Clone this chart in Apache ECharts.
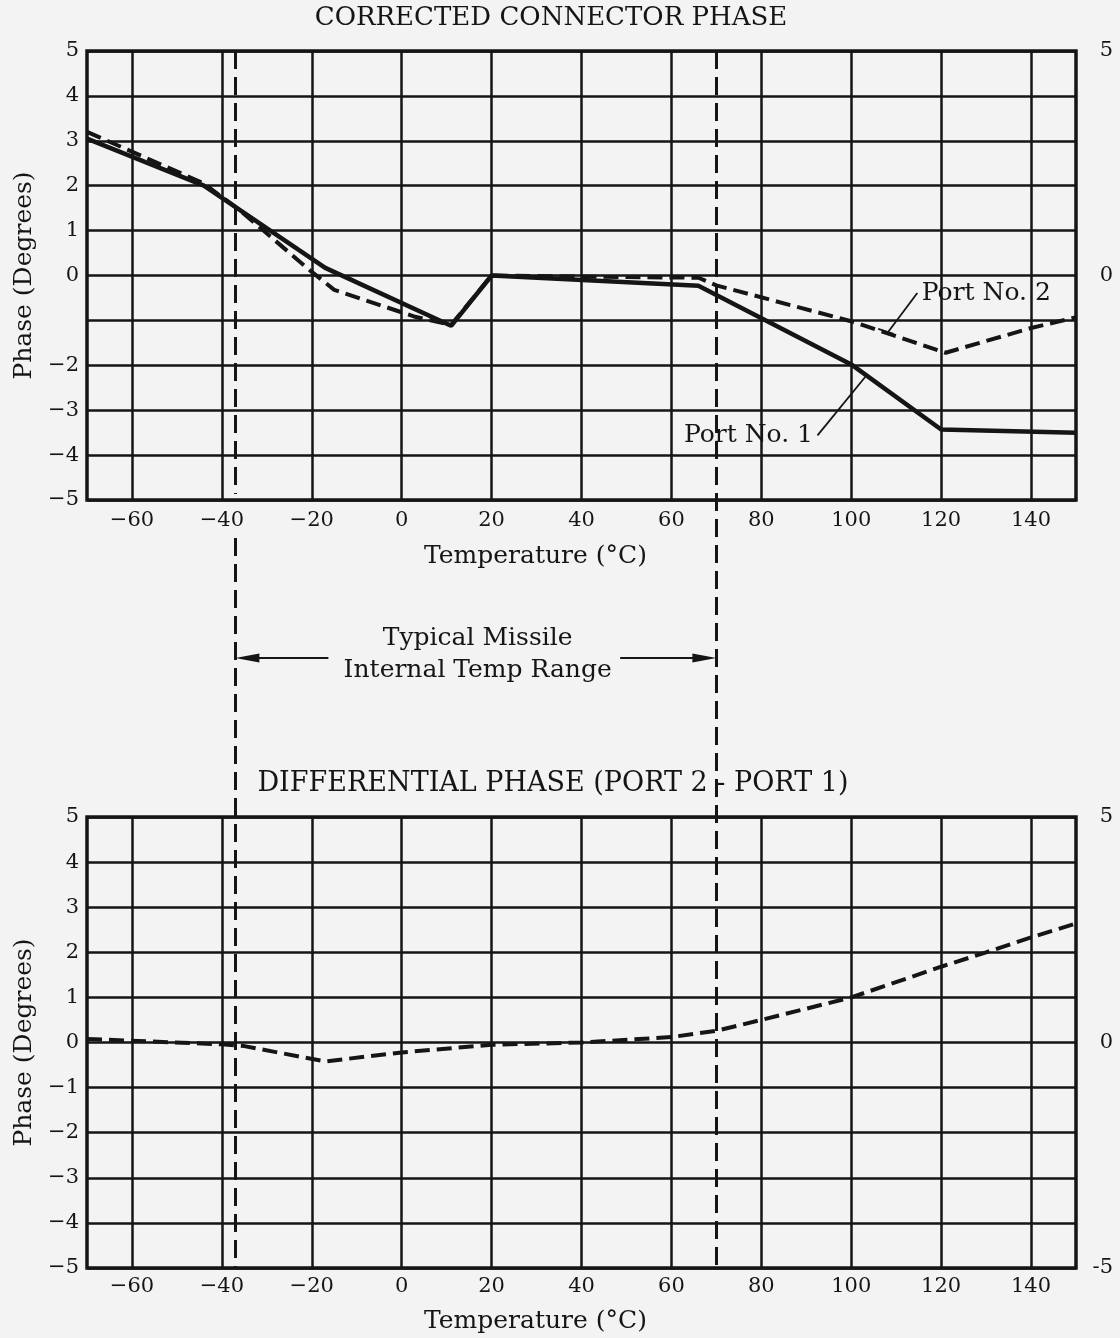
<!DOCTYPE html>
<html>
<head>
<meta charset="utf-8">
<title>Connector Phase vs Temperature</title>
<script src="https://cdn.jsdelivr.net/npm/echarts@6/dist/echarts.min.js"></script>
<style>
  html, body { margin: 0; padding: 0; background: #f3f3f3; }
  #chart { width: 1120px; height: 1338px; }
</style>
</head>
<body>
<div id="chart"></div>
<script>
// ---- data -------------------------------------------------------------
const xTicks = [-60, -40, -20, 0, 20, 40, 60, 80, 100, 120, 140];
const rightTicksTop = [5, 0];
const rightTicksBottom = [5, 0, -5];

// corrected connector phase, port 1 (solid)
const port1Temp  = [-70, -44, -17, 11, 20, 66, 100, 120, 150];
const port1Phase = [3.05, 2.0, 0.17, -1.12, 0.0, -0.23, -1.98, -3.43, -3.5];

// corrected connector phase, port 2 (dashed)
const port2Temp  = [-70, -44, -36, -20, -15, 3, 11, 20, 45, 66, 70, 100, 121, 140, 150];
const port2Phase = [3.2, 2.05, 1.45, 0.08, -0.32, -0.92, -1.1, 0.0, -0.03, -0.05, -0.22, -1.02, -1.72, -1.17, -0.93];

// differential phase, port 2 - port 1
const diffTemp  = [-70, -40, -35, -17, 0, 20, 40, 60, 70, 80, 100, 120, 130, 140, 150];
const diffPhase = [0.08, -0.04, -0.08, -0.42, -0.22, -0.05, 0.0, 0.12, 0.26, 0.5, 1.0, 1.68, 2.0, 2.33, 2.64];

// missile internal temperature range
const rangeBounds = [-37, 70];
const rangeText = ['Typical Missile', 'Internal Temp Range'];
const rangeArrowTails = [-16.3, 48.6];

// leader lines for the curve labels: [from, to] in (temp, phase)
const port1Leader = [[103.1, -2.26], [92.5, -3.56]];
const port2Leader = [[108.2, -1.26], [114.7, -0.39]];
const port2LeaderFoot = [[106.0, -1.19], [109.4, -1.30]];

// ---- styling / layout ------------------------------------------------
const INK = '#151515';
const FONT = '"DejaVu Serif", "Liberation Serif", serif';
const TOP = { top: 51, height: 449 };
const BOT = { top: 817, height: 451 };
const LEFT = 87, RIGHT = 44, WIDTH = 1120;
const X_MIN = -70, X_MAX = 150;
const OVER_TOP = TOP.top, OVER_BOT = BOT.top + BOT.height;
const yFrac = px => (OVER_BOT - px) / (OVER_BOT - OVER_TOP);
const pxPerDeg = (WIDTH - LEFT - RIGHT) / (X_MAX - X_MIN);
const ARROW = [9, 24];                       // arrowhead width, length (px)
const arrowBack = ARROW[1] / 2 / pxPerDeg;   // triangle is centred on its anchor

const minus = v => String(v).replace('-', '\u2212');
const pairs = (xs, ys) => xs.map((x, i) => [x, ys[i]]);
const seg = (a, b) => [{ coord: a }, { coord: b }];
const txt = (size) => ({ color: INK, fontFamily: FONT, fontSize: size });

function xAxisFor(gridIndex, labelMargin, nameGap) {
  return {
    type: 'value', gridIndex, min: X_MIN, max: X_MAX, interval: 10,
    axisLine: { show: false },
    axisTick: { show: false, customValues: xTicks },
    axisLabel: Object.assign({ customValues: xTicks, formatter: minus, margin: labelMargin }, txt(21)),
    splitLine: { show: true, lineStyle: { color: INK, width: 2.5 } },
    name: 'Temperature (°C)', nameLocation: 'middle', nameGap,
    nameTextStyle: Object.assign({ padding: [0, 92, 0, 0] }, txt(25))
  };
}

function yAxisLeft(gridIndex, skipMinusOne) {
  return {
    type: 'value', gridIndex, min: -5, max: 5, interval: 1,
    axisLine: { show: false }, axisTick: { show: false },
    axisLabel: Object.assign({
      margin: 8,
      formatter: v => (skipMinusOne && v === -1) ? '' : minus(v)
    }, txt(21)),
    splitLine: { show: true, lineStyle: { color: INK, width: 2.5 } },
    name: 'Phase (Degrees)', nameLocation: 'middle', nameGap: 48,
    nameTextStyle: txt(25)
  };
}

function yAxisRight(gridIndex, ticks) {
  return {
    type: 'value', gridIndex, position: 'right', min: -5, max: 5, interval: 1,
    axisLine: { show: false }, axisTick: { show: false }, splitLine: { show: false },
    axisLabel: Object.assign({ customValues: ticks, margin: 37, align: 'right' }, txt(21))
  };
}

const gridBase = { left: LEFT, right: RIGHT, show: true, backgroundColor: 'transparent',
                   borderColor: INK, borderWidth: 3.5, outerBoundsMode: 'none', containLabel: false };

const leaderStyle = { color: INK, width: 1.8, type: 'solid' };
const labelPoint = (coord, text, position) => ({
  coord, symbol: 'circle', symbolSize: 1, itemStyle: { color: 'rgba(0,0,0,0)' },
  label: Object.assign({ show: true, position, distance: 4, formatter: text }, txt(25))
});

const arrowY = yFrac(658);
const rangeArrow = (tail, head, dir) => [
  { coord: [tail, arrowY], symbol: 'none' },
  { coord: [head - dir * arrowBack, arrowY], symbol: 'triangle', symbolSize: ARROW,
    lineStyle: { type: 'solid', width: 2.2 } }
];

const option = {
  backgroundColor: '#f3f3f3',
  animation: false,
  grid: [
    Object.assign({}, gridBase, TOP),
    Object.assign({}, gridBase, BOT),
    { left: LEFT, right: RIGHT, top: OVER_TOP, height: OVER_BOT - OVER_TOP, show: false,
      outerBoundsMode: 'none', containLabel: false }
  ],
  xAxis: [
    xAxisFor(0, 10, 44),
    xAxisFor(1, 8, 41),
    { type: 'value', gridIndex: 2, min: X_MIN, max: X_MAX, show: false }
  ],
  yAxis: [
    yAxisLeft(0, true),
    yAxisRight(0, rightTicksTop),
    yAxisLeft(1, false),
    yAxisRight(1, rightTicksBottom),
    { type: 'value', gridIndex: 2, min: 0, max: 1, show: false }
  ],
  graphic: [
    { type: 'text', x: 551, y: 18,
      style: { text: 'CORRECTED CONNECTOR PHASE', align: 'center', verticalAlign: 'middle',
               fill: INK, fontFamily: FONT, fontSize: 26 } },
    { type: 'text', x: 553, y: 784,
      style: { text: 'DIFFERENTIAL PHASE (PORT 2 - PORT 1)', align: 'center', verticalAlign: 'middle',
               fill: INK, fontFamily: FONT, fontSize: 27 } }
  ],
  series: [
    {
      name: 'Port No. 1', type: 'line', xAxisIndex: 0, yAxisIndex: 0,
      data: pairs(port1Temp, port1Phase), symbol: 'none', z: 5,
      lineStyle: { color: INK, width: 4.5, type: 'solid' },
      markLine: { silent: true, symbol: 'none', label: { show: false }, lineStyle: leaderStyle,
                  data: [seg(port1Leader[0], port1Leader[1])] },
      markPoint: { silent: true, data: [labelPoint(port1Leader[1], 'Port No. 1', 'left')] }
    },
    {
      name: 'Port No. 2', type: 'line', xAxisIndex: 0, yAxisIndex: 0,
      data: pairs(port2Temp, port2Phase), symbol: 'none', z: 5,
      lineStyle: { color: INK, width: 4, type: [15, 7] },
      markLine: { silent: true, symbol: 'none', label: { show: false }, lineStyle: leaderStyle,
                  data: [seg(port2Leader[0], port2Leader[1]), seg(port2LeaderFoot[0], port2LeaderFoot[1])] },
      markPoint: { silent: true, data: [labelPoint(port2Leader[1], 'Port No. 2', 'right')] }
    },
    {
      name: 'Port 2 - Port 1', type: 'line', xAxisIndex: 1, yAxisIndex: 2,
      data: pairs(diffTemp, diffPhase), symbol: 'none', z: 5,
      lineStyle: { color: INK, width: 4, type: [15, 7] }
    },
    {
      // temperature range markers spanning both plots
      name: 'range', type: 'line', xAxisIndex: 2, yAxisIndex: 4, data: [], z: 6,
      markLine: {
        silent: true, symbol: 'none', label: { show: false },
        lineStyle: { color: INK, width: 3, type: [18, 8] },
        data: [
          seg([rangeBounds[0], 1], [rangeBounds[0], yFrac(494)]),
          seg([rangeBounds[0], yFrac(538)], [rangeBounds[0], 0]),
          seg([rangeBounds[1], 1], [rangeBounds[1], 0]),
          rangeArrow(rangeArrowTails[0], rangeBounds[0], -1),
          rangeArrow(rangeArrowTails[1], rangeBounds[1], 1)
        ]
      },
      markPoint: {
        silent: true,
        data: [{
          coord: [16.9, yFrac(654)], symbol: 'circle', symbolSize: 1,
          itemStyle: { color: 'rgba(0,0,0,0)' },
          label: Object.assign({ show: true, position: 'inside', formatter: rangeText.join('\n'),
                                 lineHeight: 32, align: 'center' }, txt(25))
        }]
      }
    }
  ]
};

const chart = echarts.init(document.getElementById('chart'), null, { renderer: 'canvas' });
chart.setOption(option);
</script>
</body>
</html>
